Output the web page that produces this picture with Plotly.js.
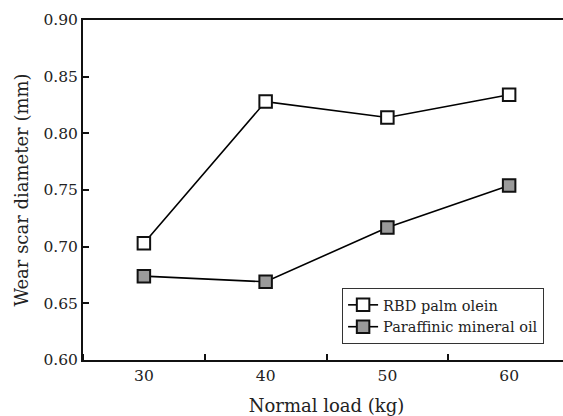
<!DOCTYPE html>
<html>
<head>
<meta charset="utf-8">
<script src="https://cdn.plot.ly/plotly-3.0.1.min.js"></script>
<style>html,body{margin:0;padding:0;overflow:hidden;background:#fff}#chart{width:570px;height:416px}</style>
</head>
<body>
<div id="chart"></div>
<script>
const loads = [30, 40, 50, 60];
const rbdPalmOlein = [0.703, 0.828, 0.814, 0.834];
const paraffinicOil = [0.674, 0.669, 0.717, 0.754];
const yTicks = [0.60, 0.65, 0.70, 0.75, 0.80, 0.85, 0.90];
const seriesNames = ['RBD palm olein', 'Paraffinic mineral oil'];

const tickFont = {family: 'DejaVu Serif, serif', color: '#222', size: 15.5};
const titleFont = {family: 'DejaVu Serif, serif', color: '#222', size: 18};

const traces = [
  {x: loads, y: rbdPalmOlein, name: seriesNames[0], mode: 'lines+markers', type: 'scatter',
   line: {color: '#000', width: 1.6},
   marker: {symbol: 'square', size: 12.5, color: '#fff', line: {color: '#111', width: 2}}},
  {x: loads, y: paraffinicOil, name: seriesNames[1], mode: 'lines+markers', type: 'scatter',
   line: {color: '#000', width: 1.6},
   marker: {symbol: 'square', size: 12.5, color: '#9a9a9a', line: {color: '#111', width: 2}}}
];

const layout = {
  width: 570, height: 416,
  margin: {l: 83, r: 0, t: 20, b: 56},
  paper_bgcolor: '#fff', plot_bgcolor: '#fff',
  font: tickFont,
  showlegend: true,
  legend: {x: 0.532, y: 0.212, xanchor: 'left', yanchor: 'top', bordercolor: '#333', borderwidth: 1,
           bgcolor: '#fff', font: {family: 'DejaVu Serif, serif', size: 14.5, color: '#222'}, tracegroupgap: 0},
  xaxis: {
    range: [25, 65], tickvals: loads, ticks: '', showgrid: false, zeroline: false,
    showline: true, linecolor: '#111', linewidth: 2, mirror: true,
    tickfont: tickFont,
    minor: {tick0: 35, dtick: 10, ticks: 'inside', ticklen: 6, tickcolor: '#111', tickwidth: 2},
    title: {text: 'Normal load (kg)', font: titleFont, standoff: 16}
  },
  yaxis: {
    range: [0.60, 0.90], tickvals: yTicks, tickformat: '.2f', ticks: 'inside', ticklen: 6,
    tickwidth: 2, tickcolor: '#111', showgrid: false, zeroline: false,
    showline: true, linecolor: '#111', linewidth: 2, mirror: true,
    tickfont: tickFont,
    title: {text: 'Wear scar diameter (mm)', font: titleFont, standoff: 10}
  }
};

Plotly.newPlot('chart', traces, layout, {displayModeBar: false, staticPlot: true});
</script>
</body>
</html>
